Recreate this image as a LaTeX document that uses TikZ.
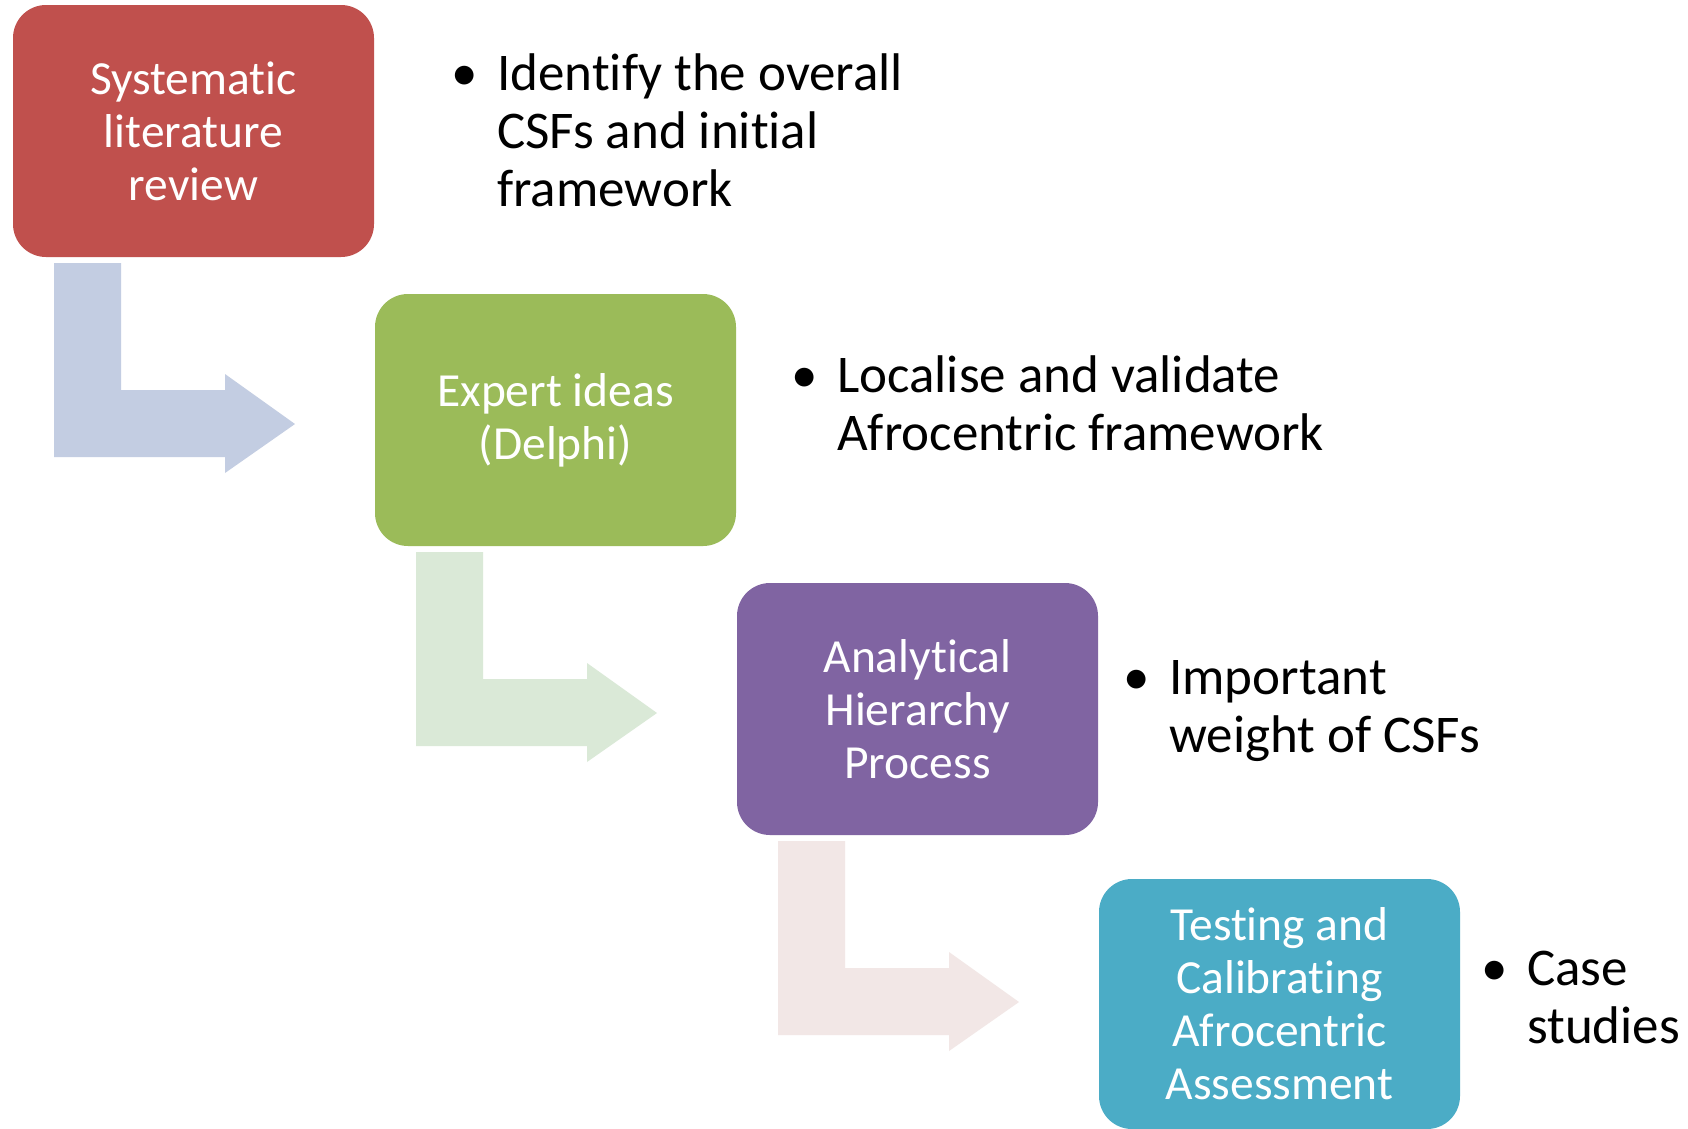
\documentclass[tikz,border=0pt]{standalone}
\usepackage{fontspec}
\setmainfont{Carlito}[Ligatures=NoCommon]
\definecolor{cRed}{HTML}{C0504D}
\definecolor{cGreen}{HTML}{9BBB59}
\definecolor{cPurple}{HTML}{8064A2}
\definecolor{cTeal}{HTML}{4BACC6}
\definecolor{aBlue}{HTML}{C3CDE2}
\definecolor{aGreen}{HTML}{DAE9D7}
\definecolor{aPink}{HTML}{F2E7E6}
\newcommand\bentarrow[3]{%
  \fill[#1] ([shift={(#2,#3)}]54,263) -- ([shift={(#2,#3)}]121,263) -- ([shift={(#2,#3)}]121,390)
    -- ([shift={(#2,#3)}]225,390) -- ([shift={(#2,#3)}]225,374) -- ([shift={(#2,#3)}]295,424)
    -- ([shift={(#2,#3)}]225,473) -- ([shift={(#2,#3)}]225,457) -- ([shift={(#2,#3)}]54,457) -- cycle;}
\newcommand\bul[1]{\parbox[t]{700pt}{\hangindent=46pt\hangafter=1\noindent\makebox[46pt][l]{•}#1\hfill}}
\begin{document}
\begin{tikzpicture}[x=1pt,y=-1pt,
  stepbox/.style={rectangle, rounded corners=33pt, minimum width=361pt, minimum height=252pt,
    inner sep=0pt, text=white, align=center,
    font=\fontsize{47.5}{53}\selectfont},
  bultext/.style={anchor=base west, inner sep=0pt, text=black,
    font=\fontsize{53}{58}\selectfont}]
\useasboundingbox (0,0) rectangle (1688,1128);
\fill[white] (0,0) rectangle (1688,1128);
% bent arrows
\bentarrow{aBlue}{0}{0}
\bentarrow{aGreen}{362}{289}
\bentarrow{aPink}{724}{578}
% boxes
\node[stepbox, fill=cRed] (b1) at (193.5,131) {Systematic\\literature\\review};
\node[stepbox, fill=cGreen] (b2) at (555.5,420) {Expert ideas\\(Delphi)};
\node[stepbox, fill=cPurple] (b3) at (917.5,709) {Analytical\\Hierarchy\\Process};
\node[stepbox, fill=cTeal, minimum height=250pt] (b4) at (1279.5,1004) {Testing and\\Calibrating\\Afrocentric\\Assessment};
% bullet texts
\node[bultext] (t1) at (451,90) {\bul{Identify the overall\\CSFs and initial\\framework}};
\node[bultext] (t2) at (791,392) {\bul{Localise and validate\\Afrocentric framework}};
\node[bultext] (t3) at (1123,694) {\bul{Important\\weight of CSFs}};
\node[bultext] (t4) at (1481,985) {\bul{Case\\studies}};
\end{tikzpicture}
\end{document}
